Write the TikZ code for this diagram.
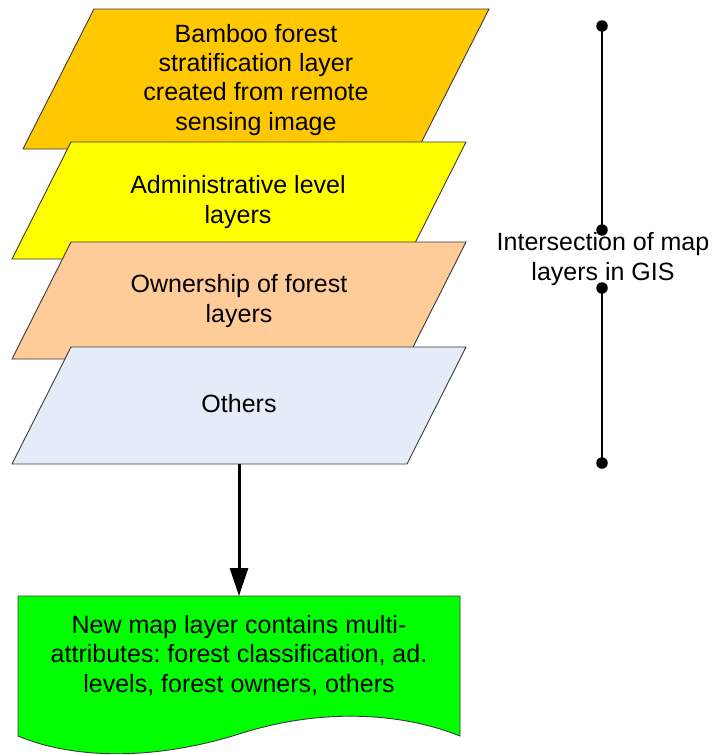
\documentclass[tikz,border=0pt]{standalone}
\usepackage{fontspec}
\setmainfont{Liberation Sans}
\usetikzlibrary{arrows.meta}
\frenchspacing
\definecolor{cOrange}{HTML}{FFC800}
\definecolor{cYellow}{HTML}{FFFF00}
\definecolor{cPeach}{HTML}{FFCC99}
\definecolor{cOther}{HTML}{E4ECF7}
\definecolor{cGreen}{HTML}{00FF00}
\definecolor{cEdge}{HTML}{3A3A3A}
\tikzset{
  layer/.style={draw=cEdge, line width=0.9pt, line join=miter},
  lbl/.style={inner sep=0pt, anchor=base, align=center, font=\fontsize{25}{29.3}\selectfont\frenchspacing},
  flow/.style={line width=3pt, -{Triangle[width=18pt,length=28pt]}},
  bar/.style={line width=2.2pt},
  dotc/.style={circle, fill=black, inner sep=0pt, minimum size=11.5pt}
}
\begin{document}
\begin{tikzpicture}[x=1pt,y=-1pt]
\useasboundingbox (0,0) rectangle (712,755);
% layers
\draw[layer, fill=cOrange] (94,9) -- (489,9) -- (418,149) -- (23,149) -- cycle;
\node[lbl] (t1) at (256,130) {Bamboo forest\\stratification layer\\created from remote\\sensing image};
\draw[layer, fill=cYellow] (71,142) -- (466,142) -- (407,259) -- (12,259) -- cycle;
\node[lbl] (t2) at (238,223) {Administrative level\\layers};
\draw[layer, fill=cPeach] (71,242) -- (466,242) -- (407,359) -- (12,359) -- cycle;
\node[lbl] (t3) at (239,322) {Ownership of forest\\layers};
\draw[layer, fill=cOther] (71,347) -- (466,347) -- (407,464) -- (12,464) -- cycle;
\node[lbl] (t4) at (239,412) {Others};
\coordinate (othB) at (239,464);
% document
\draw[layer, fill=cGreen] (18,596) -- (460,596) -- (460,736)
  .. controls (400,712) and (320,708) .. (239,734)
  .. controls (150,762) and (70,758) .. (18,736) -- cycle;
\coordinate (docT) at (239,596);
\node[lbl] (t5) at (239,692) {New map layer contains multi-\\attributes: forest classification, ad.\\levels, forest owners, others};
\draw[flow] (othB) -- (docT);
% right bracket
\node[dotc] (d1) at (602,26) {};
\node[dotc] (d2) at (602,230) {};
\node[dotc] (d3) at (602,288) {};
\node[dotc] (d4) at (602,463) {};
\draw[bar] (d1.center) -- (d2.center);
\draw[bar] (d3.center) -- (d4.center);
\node[lbl] (t6) at (603,280) {Intersection of map\\layers in GIS};
\end{tikzpicture}
\end{document}
